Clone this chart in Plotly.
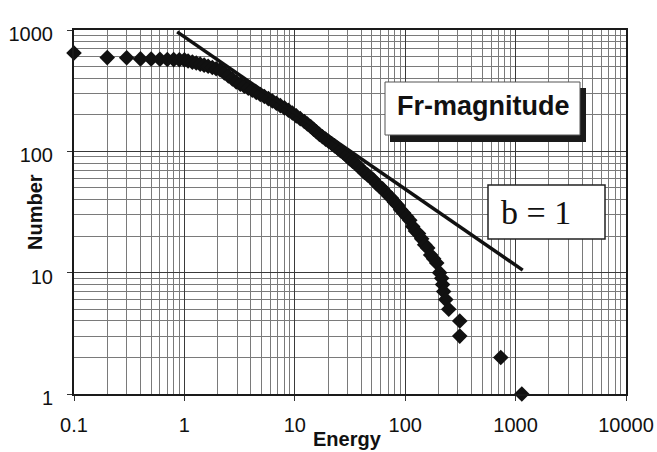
import plotly.graph_objects as go

# ---- data ----
energy = [
    0.1, 0.2, 0.3, 0.4, 0.5, 0.6, 0.7, 0.8, 0.9, 1.0,
    1.08, 1.18, 1.28, 1.39, 1.51, 1.64, 1.79, 1.94, 2.11, 2.30,
    2.50, 2.72, 2.95, 3.21, 3.49, 3.79, 4.12, 4.48, 4.87, 5.30,
    5.76, 6.26, 6.81, 7.40, 8.05, 8.75, 9.51, 10.3, 11.2, 12.2,
    13.0, 13.9, 14.8, 15.7, 16.7, 17.8, 19.0, 20.2, 21.5, 22.9,
    24.4, 25.9, 27.6, 29.4, 31.3, 33.3, 35.5, 37.8, 40.2, 42.8,
    45.6, 48.5, 51.7, 55.0, 58.6, 62.4, 66.4, 70.7, 75.3, 80.1,
    85.3, 90.8, 96.7, 103, 110, 117, 124, 132, 141, 150,
    160, 170, 181, 193, 205, 214, 218, 223, 233, 248,
    312, 312, 734, 1138,
]
number = [
    647, 592, 590, 578, 576, 574, 572, 570, 568, 567,
    555, 544, 534, 523, 513, 502, 491, 480, 470, 443,
    418, 395, 373, 357, 344, 331, 319, 306, 294, 283,
    272, 260, 249, 238, 228, 218, 207, 196, 186, 176,
    168, 160, 152, 145, 138, 132, 126, 121, 116, 111,
    106, 101, 97, 92, 87, 83, 79, 75, 71, 67,
    64, 61, 58, 54, 51, 49, 46, 43, 41, 38,
    36, 33, 31, 29, 27, 24, 22, 21, 19, 17,
    16, 14, 13, 12, 10, 9, 8, 7, 6, 5,
    4, 3, 2, 1,
]
fit_energy = [0.86, 1160]
fit_number = [964, 10.5]

x_tickvals = [0.1, 1, 10, 100, 1000, 10000]
x_ticktext = ["0.1", "1", "10", "100", "1000", "10000"]
y_tickvals = [1, 10, 100, 1000]
y_ticktext = ["1", "10", "100", "1000"]

x_title = "Energy"
y_title = "Number"
title_box = "Fr-magnitude"
slope_box = "b = 1"

# ---- layout geometry (pixels) ----
W, H = 657, 452
L, R, T, B = 74, 626, 30, 394
SANS = "Liberation Sans, Arial"


def fx(px):
    return (px - L) / (R - L)


def fy(py):
    return (B - py) / (B - T)


fig = go.Figure()
fig.add_trace(go.Scatter(
    x=energy, y=number, mode="markers",
    marker=dict(symbol="diamond", size=12, color="#111111", line=dict(width=0)),
    cliponaxis=False, showlegend=False,
))
fig.add_trace(go.Scatter(
    x=fit_energy, y=fit_number, mode="lines",
    line=dict(color="#111111", width=3.5),
    cliponaxis=False, showlegend=False,
))

axis_common = dict(
    type="log",
    showline=True, linecolor="#1a1a1a", linewidth=2, mirror=True,
    showgrid=True, gridcolor="#3a3a3a", gridwidth=1,
    ticks="outside", ticklen=5, tickcolor="#333333", tickwidth=1,
    tickfont=dict(family=SANS, size=20, color="#111111"),
    zeroline=False,
    minor=dict(showgrid=True, gridcolor="#7a7a7a", gridwidth=1, dtick="D1", ticks=""),
)

fig.update_xaxes(
    **axis_common,
    range=[-1, 4],
    tickvals=x_tickvals, ticktext=x_ticktext,
    ticklabelstandoff=7,
)
fig.update_yaxes(
    **axis_common,
    range=[0, 3],
    tickvals=y_tickvals, ticktext=y_ticktext,
    ticklabelstandoff=10,
    ticklabelshift=4,
)

shapes = [
    # shadow of the title box
    dict(type="rect", xref="paper", yref="paper",
         x0=fx(390), x1=fx(586), y0=fy(142), y1=fy(88),
         fillcolor="#1a1a1a", line=dict(width=0), layer="above"),
    dict(type="rect", xref="paper", yref="paper",
         x0=fx(385), x1=fx(580), y0=fy(135), y1=fy(82),
         fillcolor="white", line=dict(color="#555555", width=1), layer="above"),
    dict(type="rect", xref="paper", yref="paper",
         x0=fx(488), x1=fx(605), y0=fy(239), y1=fy(185),
         fillcolor="white", line=dict(color="#222222", width=1.5), layer="above"),
]
annotations = [
    dict(text="<b>" + title_box + "</b>", xref="paper", yref="paper",
         x=fx(483), y=fy(106), xanchor="center", yanchor="middle", showarrow=False,
         font=dict(family=SANS, size=27, color="#111111")),
    dict(text=slope_box, xref="paper", yref="paper",
         x=fx(536), y=fy(212), xanchor="center", yanchor="middle", showarrow=False,
         font=dict(family="Liberation Serif, Times New Roman", size=34, color="#111111")),
    dict(text="<b>" + x_title + "</b>", xref="paper", yref="paper",
         x=fx(347), y=fy(439), xanchor="center", yanchor="middle", showarrow=False,
         font=dict(family=SANS, size=20, color="#111111")),
    dict(text="<b>" + y_title + "</b>", xref="paper", yref="paper",
         x=fx(35), y=fy(212), xanchor="center", yanchor="middle", showarrow=False,
         textangle=-90,
         font=dict(family=SANS, size=20, color="#111111")),
]

fig.update_layout(
    width=W, height=H,
    margin=dict(l=L, r=W - R, t=T, b=H - B, autoexpand=False),
    paper_bgcolor="white", plot_bgcolor="white",
    shapes=shapes, annotations=annotations,
    showlegend=False,
)

fig.write_html("out.html")
